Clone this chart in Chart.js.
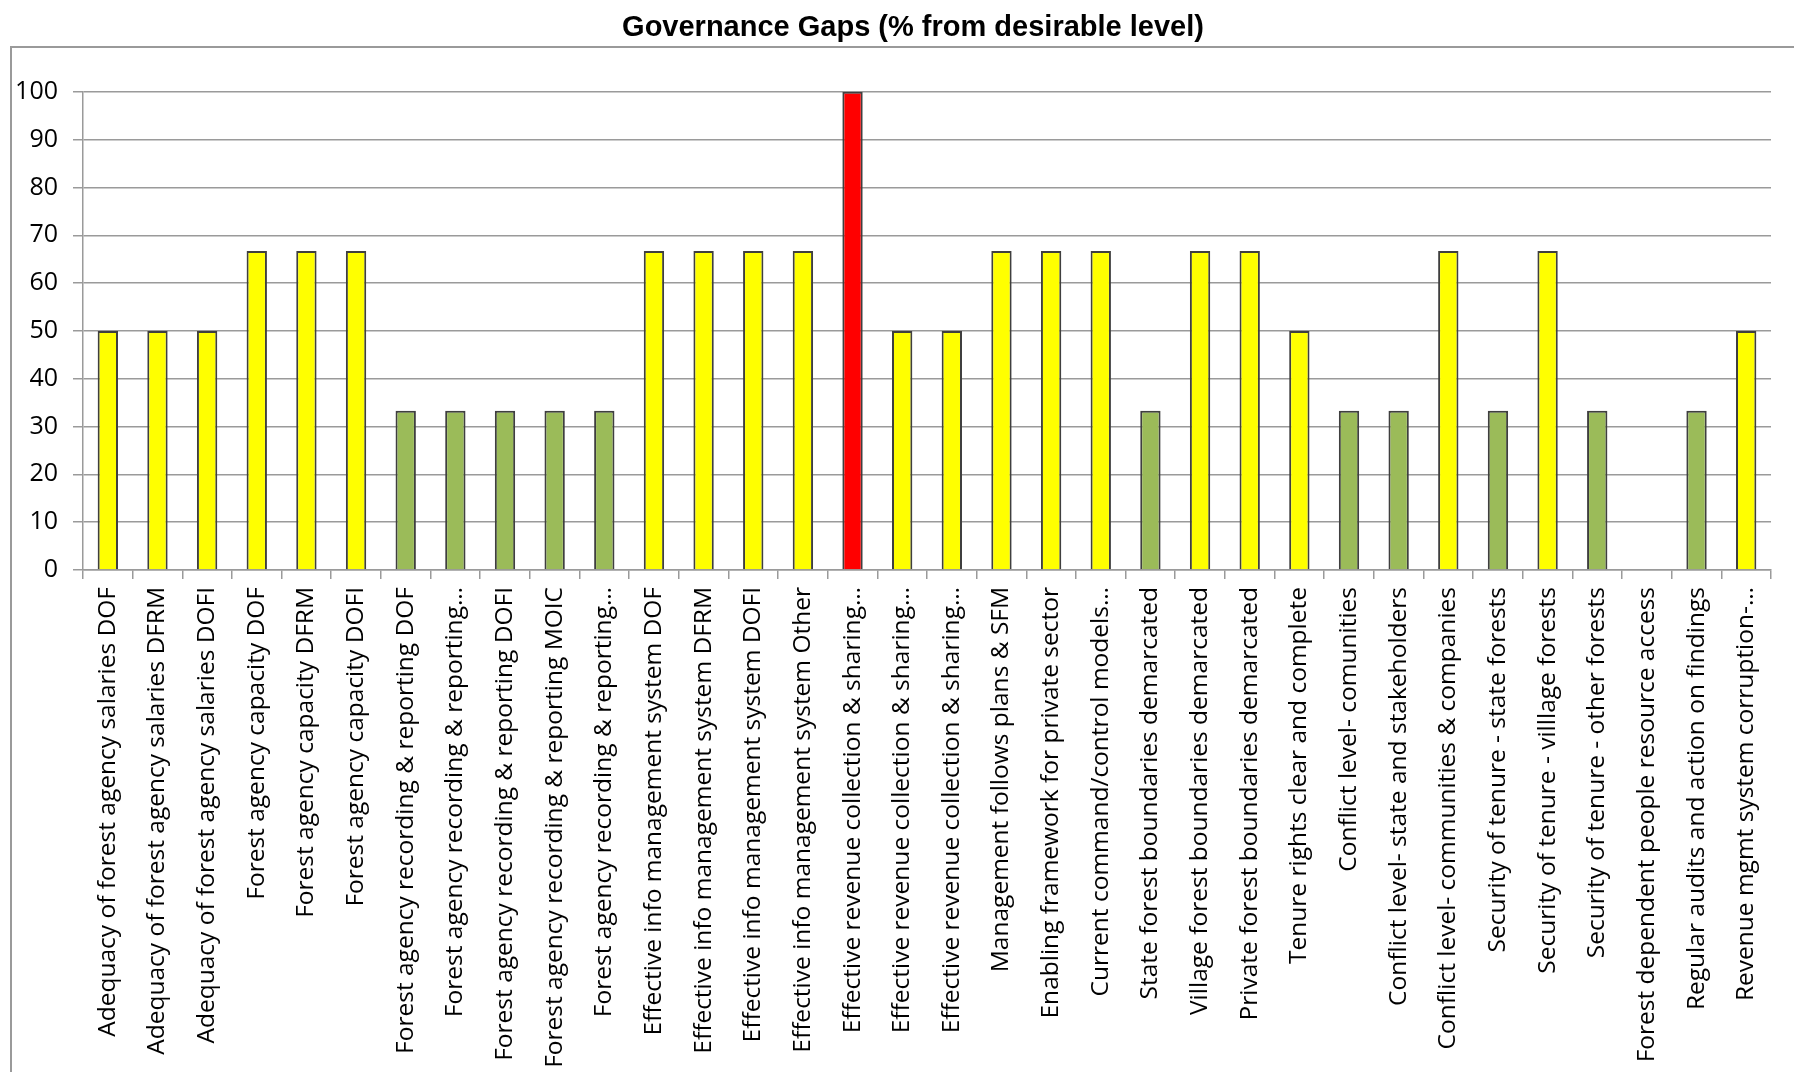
<!DOCTYPE html>
<html>
<head>
<meta charset="utf-8">
<title>Governance Gaps</title>
<script src="https://cdn.jsdelivr.net/npm/chart.js@4.4.1/dist/chart.umd.min.js"></script>
<style>
  html, body { margin: 0; padding: 0; background: #ffffff; }
  #wrap { width: 1794px; height: 1072px; overflow: hidden; }
  canvas { display: block; }
</style>
</head>
<body>
<div id="wrap"><canvas id="gaps" width="1834" height="1072"></canvas></div>
<script>
// Governance indicators (x categories)
const categories = [
  "Adequacy of forest agency salaries DOF",
  "Adequacy of forest agency salaries DFRM",
  "Adequacy of forest agency salaries DOFI",
  "Forest agency capacity DOF",
  "Forest agency capacity DFRM",
  "Forest agency capacity DOFI",
  "Forest agency recording & reporting DOF",
  "Forest agency recording & reporting…",
  "Forest agency recording & reporting DOFI",
  "Forest agency recording & reporting MOIC",
  "Forest agency recording & reporting…",
  "Effective info management system DOF",
  "Effective info management system DFRM",
  "Effective info management system DOFI",
  "Effective info management system Other",
  "Effective revenue collection & sharing…",
  "Effective revenue collection & sharing…",
  "Effective revenue collection & sharing…",
  "Management follows plans & SFM",
  "Enabling framework for private sector",
  "Current command/control models…",
  "State forest boundaries demarcated",
  "Village forest boundaries demarcated",
  "Private forest boundaries demarcated",
  "Tenure rights clear and complete",
  "Conflict level- comunities",
  "Conflict level- state and stakeholders",
  "Conflict level- communities & companies",
  "Security of tenure - state forests",
  "Security of tenure - villlage forests",
  "Security of tenure - other forests",
  "Forest dependent people resource access",
  "Regular audits and action on findings",
  "Revenue mgmt system corruption-…"
];

// Gap from the desirable level, in percent
const gapValues = [
  50, 50, 50,
  66.7, 66.7, 66.7,
  33.3, 33.3, 33.3, 33.3, 33.3,
  66.7, 66.7, 66.7, 66.7,
  100, 50, 50,
  66.7, 66.7, 66.7,
  33.3, 66.7, 66.7, 50,
  33.3, 33.3, 66.7,
  33.3, 66.7, 33.3,
  0, 33.3, 50
];

// Value axis range and tick step
const yMin = 0;
const yMax = 100;
const yStep = 10;

// Severity colouring: full gap red, medium gap yellow, small gap green
function gapColour(v) {
  if (v >= 100) return "#FF0000";
  if (v >= 50) return "#FFFF00";
  return "#9BBB59";
}

const GRID = "#9a9a9a";
const LABEL_FONT = "'Open Sans', Lato, sans-serif";

// Outer chart frame
const framePlugin = {
  id: "frame",
  beforeDraw(chart) {
    const ctx = chart.ctx;
    ctx.save();
    ctx.strokeStyle = "#9a9a9a";
    ctx.lineWidth = 2;
    ctx.strokeRect(11, 47, 2400, 2400);
    ctx.restore();
  }
};

new Chart(document.getElementById("gaps"), {
  type: "bar",
  data: {
    labels: categories,
    datasets: [{
      data: gapValues,
      yAxisID: "y",
      backgroundColor: gapValues.map(gapColour),
      borderColor: "#3f3f3f",
      borderWidth: 2,
      borderSkipped: "start",
      categoryPercentage: 1,
      barPercentage: 0.41
    }]
  },
  options: {
    responsive: false,
    animation: false,
    devicePixelRatio: 1,
    layout: { padding: { left: 0, right: 8, top: 0, bottom: 0 } },
    plugins: {
      legend: { display: false },
      tooltip: { enabled: false },
      title: {
        display: true,
        text: "Governance Gaps (% from desirable level)",
        color: "#000000",
        font: { family: "'Liberation Sans', Arial, sans-serif", size: 29, weight: "bold", lineHeight: 1.2 },
        padding: { top: 11, bottom: 46 }
      }
    },
    scales: {
      x: {
        offset: true,
        grid: {
          display: true,
          offset: true,
          drawOnChartArea: false,
          drawTicks: true,
          tickLength: 9,
          color: GRID,
          lineWidth: 1.5
        },
        border: { display: true, color: GRID, width: 1.5 },
        ticks: {
          autoSkip: false,
          maxRotation: 90,
          minRotation: 90,
          padding: 8,
          color: "#000000",
          font: { family: LABEL_FONT, size: 24.5 }
        },
        afterFit(scale) { scale.height = 502; }
      },
      y: {
        position: "left",
        min: yMin,
        max: yMax,
        grid: {
          color: GRID,
          lineWidth: 1.5,
          drawTicks: true,
          tickLength: 10
        },
        border: { display: true, color: GRID, width: 1.5 },
        ticks: {
          stepSize: yStep,
          padding: 15,
          color: "#000000",
          font: { family: LABEL_FONT, size: 25 }
        },
        afterFit(scale) { scale.width = 83; }
      },
      // empty spacer on the right so the title sits centred over the full frame
      spacer: {
        position: "right",
        display: true,
        grid: { display: false },
        border: { display: false },
        ticks: { display: false },
        afterFit(scale) { scale.width = 55; }
      }
    }
  },
  plugins: [framePlugin]
});
</script>
</body>
</html>
